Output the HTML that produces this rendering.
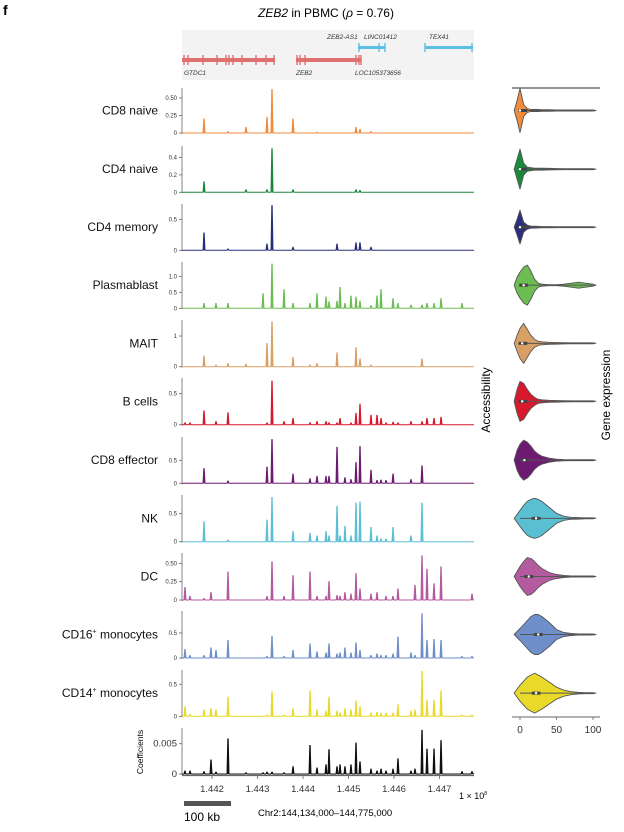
<!DOCTYPE html>
<html><head><meta charset="utf-8"><style>
html,body{margin:0;padding:0;background:#fff;}
svg{display:block;font-family:"Liberation Sans",sans-serif;}
</style></head><body>
<svg id="fig" width="624" height="832" viewBox="0 0 624 832" xmlns="http://www.w3.org/2000/svg">
<text x="3" y="15" font-size="14" font-weight="bold">f</text>
<text x="326" y="17" font-size="12" text-anchor="middle"><tspan font-style="italic">ZEB2</tspan> in PBMC (<tspan font-style="italic">ρ</tspan> = 0.76)</text>
<g id="genes">
<rect x="182" y="30" width="292" height="50" fill="#f3f3f3"/>
<rect x="182" y="58" width="93" height="4" fill="#e07070"/>
<rect x="296" y="58" width="65" height="4" fill="#e07070"/>
<rect x="358" y="46" width="27" height="3" fill="#5bbfe4"/>
<rect x="425" y="46" width="48" height="3" fill="#5bbfe4"/>
<g stroke="#e07070" stroke-width="1.4">
<line x1="184" y1="55" x2="184" y2="65"/><line x1="188" y1="55" x2="188" y2="65"/><line x1="203" y1="55" x2="203" y2="65"/><line x1="217" y1="55" x2="217" y2="65"/><line x1="226" y1="55" x2="226" y2="65"/><line x1="229" y1="55" x2="229" y2="65"/><line x1="233" y1="55" x2="233" y2="65"/><line x1="242" y1="55" x2="242" y2="65"/><line x1="256" y1="55" x2="256" y2="65"/><line x1="266" y1="55" x2="266" y2="65"/><line x1="274" y1="55" x2="274" y2="65"/>
<line x1="297" y1="55" x2="297" y2="65"/><line x1="300" y1="55" x2="300" y2="65"/><line x1="305" y1="55" x2="305" y2="65"/><line x1="356" y1="55" x2="356" y2="65"/><line x1="359" y1="55" x2="359" y2="65"/><line x1="361" y1="55" x2="361" y2="65"/>
</g>
<g stroke="#5bbfe4" stroke-width="1.4">
<line x1="359" y1="43" x2="359" y2="52"/><line x1="379" y1="43" x2="379" y2="52"/><line x1="385" y1="43" x2="385" y2="52"/><line x1="425" y1="43" x2="425" y2="52"/><line x1="472" y1="43" x2="472" y2="52"/>
</g>
<g font-size="6.5" font-style="italic" fill="#333">
<text x="184" y="75">GTDC1</text><text x="296" y="75">ZEB2</text><text x="355" y="75">LOC105373656</text>
<text x="327" y="39">ZEB2-AS1</text><text x="364" y="39">LINC01412</text><text x="429" y="39">TEX41</text>
</g>
</g>
<g id="tracks"></g>
<g id="violins"></g>
<text transform="translate(490,400) rotate(-90)" font-size="12" text-anchor="middle">Accessibility</text>
<text transform="translate(610,395) rotate(-90)" font-size="12" text-anchor="middle">Gene expression</text>
<line x1="512" y1="88" x2="600" y2="88" stroke="#555" stroke-width="1.2"/>
<rect x="184" y="801" width="47" height="5" fill="#555"/>
<text x="184" y="821" font-size="12">100 kb</text>
<text x="258" y="816" font-size="9.5">Chr2:144,134,000–144,775,000</text>
<text x="459" y="799" font-size="9">1 × 10<tspan dy="-4" font-size="5">8</tspan></text>
<text transform="translate(143,752) rotate(-90)" font-size="8.5" text-anchor="middle">Coefficients</text>
</svg>
<script>
const NS="http://www.w3.org/2000/svg";
const peakPos=[144.1406,144.1516,144.1824,144.1977,144.2087,144.2351,144.2747,144.3120,144.3208,144.3318,144.3582,144.3780,144.4153,144.4307,144.4505,144.4571,144.4747,144.4813,144.4922,144.5054,144.5164,144.5252,144.5494,144.5626,144.5714,144.5824,144.5978,144.6087,144.6373,144.6461,144.6615,144.6725,144.6879,144.7033,144.7494,144.7714];
const trackNames=["CD8 naive","CD4 naive","CD4 memory","Plasmablast","MAIT","B cells","CD8 effector","NK","DC","CD16+ monocytes","CD14+ monocytes","Coefficients"];
const valsCD8naive=[0,0,.2,0,0,.02,.08,0,.22,.62,0,.2,0,.01,0,0,0,0,0,0,.08,.05,.02,0,0,0,0,0,0,0,0,0,0,0,0,0];
const valsCD4naive=[0,0,.12,0,0,0,.03,0,.03,.5,0,.03,0,0,0,0,0,0,0,0,.03,.02,0,0,0,0,0,0,0,0,0,0,0,0,0,0];
const valsCD4memory=[0,0,.28,0,0,.02,0,0,.1,.72,0,.05,0,0,0,0,.1,0,0,0,.12,.12,.05,0,0,0,0,0,0,0,0,0,0,0,0,0];
const valsPlasmablast=[0,0,.15,0,.15,.15,0,.45,0,1.38,.58,.15,.15,.45,.35,.2,.22,.65,.15,.38,.35,.22,.08,.38,.58,0,.3,.15,.1,0,.1,.15,.15,.3,.15,0];
const valsMAIT=[0,0,.35,0,.05,.1,.08,0,.75,1.45,0,.3,.05,.1,0,0,.45,0,0,0,.62,.25,.05,0,0,0,0,0,0,0,.25,0,0,0,0,0];
const valsBcells=[.03,.03,.22,0,.05,.19,0,0,.03,.7,.05,.1,.03,.05,.05,.03,.03,.1,0,.03,.18,.33,.15,.15,.1,.03,.04,.03,.05,0,.05,.1,.1,.12,0,0];
const valsCD8eff=[0,0,.32,0,0,.05,0,0,.35,.95,0,.2,.1,.15,.15,.15,.78,0,.12,.08,.45,.8,.28,.06,.07,.06,.2,0,.08,0,.38,0,0,0,0,0];
const valsNK=[0,0,.35,0,0,.03,0,0,.38,.78,0,.18,.15,.1,.18,.1,.62,.1,.27,.1,.68,.7,.25,.1,.05,.05,.25,0,.1,0,.68,0,0,0,0,0];
const valsDC=[.17,.05,.02,.1,0,.38,0,0,.05,.52,.05,.33,.38,.05,.05,.25,.06,.05,.1,.08,.36,.15,.08,.1,0,.05,.05,.15,0,.2,.6,.42,.22,.45,0,.08];
const valsCD16=[.17,.05,.05,.2,.15,.35,0,0,.03,.43,.03,.15,.28,.12,.1,.28,.08,.1,.2,.1,.3,.15,.05,.08,.05,.05,.08,.42,.1,.05,.88,.35,.37,.35,.03,.03];
const valsCD14=[.15,.03,.1,.12,.1,.3,0,0,.02,.38,.02,.12,.4,.1,.08,.3,.08,.05,.12,.1,.24,.15,.05,.06,.05,.05,.05,.18,.08,.1,.7,.25,.25,.4,.02,.02];
const valsCoef=[.0005,.0005,.0004,.0023,.0003,.0058,.0002,.0002,.0003,.0003,.0002,.0012,.0047,.001,.0015,.004,.0012,.0015,.0012,.0015,.0051,.002,.0008,.0005,.0008,.0005,.0008,.0025,.0005,.0008,.0072,.0041,.0041,.0055,.0004,.0004];
const ticksCD8naive=[0,0.25,0.5],ticksCD4naive=[0,0.2,0.4],ticksCD4memory=[0,0.5],ticksPlasma=[0,0.5,1.0],ticksMAIT=[0,1],ticksB=[0,0.5],ticksCD8eff=[0,0.5],ticksNK=[0,0.5],ticksDC=[0,0.25,0.5],ticksCD16=[0,0.5],ticksCD14=[0,0.5],ticksCoef=[0,0.005];
const tickLabelsList=[["0","0.25","0.50"],["0","0.2","0.4"],["0","0.5"],["0","0.5","1.0"],["0","1"],["0","0.5"],["0","0.5"],["0","0.5"],["0","0.25","0.50"],["0","0.5"],["0","0.5"],["0","0.005"]];
const xTicks=[144.2,144.3,144.4,144.5,144.6,144.7];
const xTickLabels=["1.442","1.443","1.444","1.445","1.446","1.447"];
const violinGrid=[-8,-4,0,5,10,15,20,25,30,40,50,60,70,80,90,100,104];
const vCD8naive=[0,10,22,6,2,1,1,1,.8,.8,.6,.6,.5,.5,.5,.5,0];
const vCD4naive=[0,10,20,6,2,1.5,1,1,1,.8,.6,.5,.5,.5,.5,.5,0];
const vCD4memory=[0,8,17,5,2,1,1,.8,.6,.6,.5,.5,.5,.5,.5,.5,0];
const vPlasma=[0,8,13,18,20,14,6,2,1,.5,.5,1,2,3,2,1,0];
const vMAIT=[0,8,15,20,14,8,4,2,1.5,1,.8,.6,.5,.5,.5,.5,0];
const vB=[0,12,20,18,12,7,4,2,1.5,1,.8,.6,.5,.5,.5,.5,0];
const vCD8eff=[0,10,16,20,18,14,9,6,4,2,1,.6,.5,.5,.5,.5,0];
const vNK=[0,4,8,13,17,19,20,19,17,11,5,2,1,.8,.5,.5,0];
const vDC=[0,5,10,15,19,18,15,11,8,4,2,1,.6,.5,.5,.5,0];
const vCD16=[0,3,6,10,14,18,20,20,18,12,5,2,1,.6,.5,.5,0];
const vCD14=[0,4,8,12,16,18,20,18,16,11,6,3,1.5,.8,.5,.5,0];
const violinMedians=[0,0,0,5,3,3,6,22,12,25,22];
const violinTicks=[0,50,100];

const allVals=[valsCD8naive,valsCD4naive,valsCD4memory,valsPlasmablast,valsMAIT,valsBcells,valsCD8eff,valsNK,valsDC,valsCD16,valsCD14,valsCoef];
const allTicks=[ticksCD8naive,ticksCD4naive,ticksCD4memory,ticksPlasma,ticksMAIT,ticksB,ticksCD8eff,ticksNK,ticksDC,ticksCD16,ticksCD14,ticksCoef];
const allViolins=[vCD8naive,vCD4naive,vCD4memory,vPlasma,vMAIT,vB,vCD8eff,vNK,vDC,vCD16,vCD14];
const colors=["#f08a3c","#1a8a3a","#2a2f7a","#6cbd52","#d9a066","#d7192e","#6e1a72","#5bbfd4","#b45a9e","#6f8fca","#e8d92a","#111"];
const baselines=[133,192.3,250.3,308.3,366.7,424.7,483.3,541.7,600,658,716.3,774];
const pxPerUnit=[70,87,62,32,30.7,62,46,56.7,73.3,50,64,6060];
const tops=[88,146,204,262,320,378,437,495,553,611,670,728];
const X0=182,X1=474,G0=144.134;
const xScale=p=>X0+(p-G0)*455;
const vx=v=>520+v*0.73;

const tg=document.getElementById('tracks');
function mk(tag,attrs,parent){const e=document.createElementNS(NS,tag);for(const k in attrs)e.setAttribute(k,attrs[k]);parent.appendChild(e);return e;}
for(let t=0;t<12;t++){
  const g=mk('g',{},tg);
  
  
  const b=baselines[t],s=pxPerUnit[t],col=colors[t];
  const yS=v=>b-v*s;
  const ax=mk('line',{x1:X0,y1:tops[t],x2:X0,y2:b+1,stroke:'#666','stroke-width':0.8},g);
  
  
  allTicks[t].forEach((tv,i)=>{
    const y=yS(tv);
    mk('line',{x1:X0-3,y1:y,x2:X0,y2:y,stroke:'#666','stroke-width':0.8},g);
    const tx=mk('text',{x:X0-5,y:y+(t==11?3:2),'font-size':t==11?9.5:6,'text-anchor':'end',fill:'#333'},g);
    tx.textContent=tickLabelsList[t][i];
    
    
  });
  let d='M'+X0+','+b;
  const vals=allVals[t];
  peakPos.forEach((p,i)=>{
    const x=xScale(p);
    if(vals[i]>0){d+=' L'+(x-1)+','+b+' L'+(x-0.2)+','+yS(vals[i])+' L'+(x+0.2)+','+yS(vals[i])+' L'+(x+1)+','+b;}
  });
  d+=' L'+X1+','+b;
  const pth=mk('path',{d:d,fill:col,stroke:col,'stroke-width':1,'stroke-linejoin':'miter'},g);
  
  
  if(t<11){
    const lb=mk('text',{x:158,y:(tops[t]+b)/2+4,'font-size':12,'text-anchor':'end',fill:'#111'},g);
    const nm=trackNames[t];
    if(nm.indexOf('+')>0){const parts=nm.split('+');lb.appendChild(document.createTextNode(parts[0]));const sp=mk('tspan',{dy:-5,'font-size':7},lb);sp.textContent='+';const sp2=mk('tspan',{dy:5},lb);sp2.textContent=parts[1];}
    else lb.textContent=nm;
    
    
  }
}
const xa=mk('line',{x1:X0,y1:775.5,x2:X1,y2:775.5,stroke:'#666','stroke-width':1.2},tg);


xTicks.forEach((p,i)=>{
  const x=xScale(p);
  mk('line',{x1:x,y1:775,x2:x,y2:779,stroke:'#666','stroke-width':0.8},tg);
  const tx=mk('text',{x:x,y:792,'font-size':9.5,'text-anchor':'middle',fill:'#333'},tg);
  tx.textContent=xTickLabels[i];
  
  
});
const vg=document.getElementById('violins');
allViolins.forEach((w,i)=>{
  const cy=(tops[i]+baselines[i])/2;
  const g=mk('g',{},vg);
  
  
  let d='M'+vx(violinGrid[0])+','+cy;
  violinGrid.forEach((v,k)=>{d+=' L'+vx(v)+','+(cy-w[k]);});
  for(let k=violinGrid.length-1;k>=0;k--){d+=' L'+vx(violinGrid[k])+','+(cy+w[k]);}
  d+='Z';
  const p=mk('path',{d:d,fill:colors[i],stroke:'#555','stroke-width':0.9,'stroke-linejoin':'round'},g);
  
  
  mk('line',{x1:vx(0),y1:cy,x2:vx(100),y2:cy,stroke:'#555','stroke-width':1},g);
  const m=violinMedians[i];
  mk('rect',{x:vx(Math.max(m-6,-2)),y:cy-1.5,width:Math.max(12*0.73,5),height:3,fill:'#444'},g);
  mk('circle',{cx:vx(m),cy:cy,r:1.2,fill:'#fff'},g);
});
const va=mk('line',{x1:512,y1:717,x2:600,y2:717,stroke:'#666','stroke-width':1},vg);


violinTicks.forEach(v=>{
  mk('line',{x1:vx(v),y1:717,x2:vx(v),y2:720,stroke:'#666','stroke-width':0.8},vg);
  const tx=mk('text',{x:vx(v),y:733,'font-size':10,'text-anchor':'middle',fill:'#333'},vg);
  tx.textContent=String(v);
  
  
});
</script>
</body></html>
